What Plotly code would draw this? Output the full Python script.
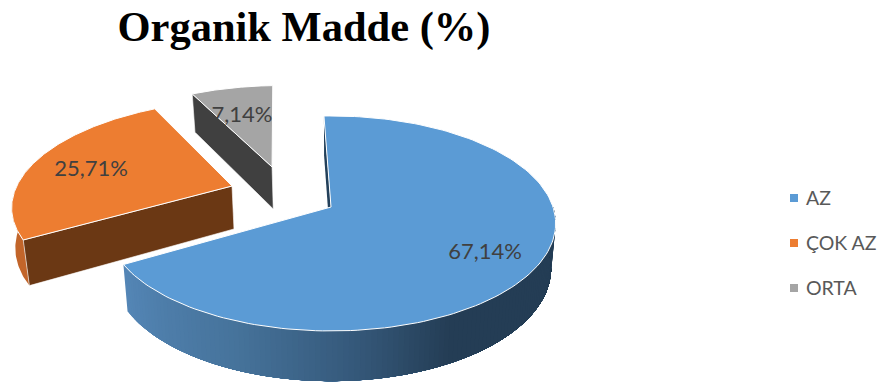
import numpy as np
import plotly.graph_objects as go

# Chart data
categories = ["AZ", "ÇOK AZ", "ORTA"]
shares = [67.14, 25.71, 7.14]
chart_title = "Organik Madde (%)"

# Flat and shaded colours per slice
top_colors = ["#5B9BD5", "#ED7D31", "#A5A5A5"]
face_colors = ["#23405A", "#6B3814", "#404040"]
orange_rim = "#C2652A"

# Projection of the tilted disc onto the canvas (units: canvas pixels)
CX, CY = 331.0, 207.0
RX, RY = 222.0, 105.0
PERSP = 0.153
START_DEG = 92.1
# Explosion of each slice, in disc radii
offsets = [(0.0, 0.0), (-0.46, 0.206), (-0.282, 0.405)]


def project(x, y):
    w = 1 + PERSP * y
    return CX + RX * x / w, CY - RY * y / w


def drop(px, py, shrink=0.98):
    """Lower edge of the extruded wall below a point on the top face."""
    return CX + (px - CX) * shrink, py + 44 + (py - CY) * 0.05


def polygon(xs, ys, fill, line="rgba(0,0,0,0)", width=0.0):
    return go.Scatter(
        x=list(xs), y=list(ys), mode="lines", fill="toself", fillcolor=fill,
        line=dict(color=line, width=width), hoverinfo="skip", showlegend=False,
    )


def lerp_color(stops, t):
    for (t0, c0), (t1, c1) in zip(stops, stops[1:]):
        if t <= t1:
            f = (t - t0) / (t1 - t0) if t1 > t0 else 0
            rgb = [round(a + (b - a) * f) for a, b in zip(c0, c1)]
            return "rgb({},{},{})".format(*rgb)
    return "rgb({},{},{})".format(*stops[-1][1])


# Slice boundaries, running clockwise from the start angle
total = sum(shares)
edges = [START_DEG]
for s in shares:
    edges.append(edges[-1] - s / total * 360)


def rim_point(i, deg):
    ox, oy = offsets[i]
    th = np.radians(deg)
    return project(np.cos(th) + ox, np.sin(th) + oy)


def radial_wall(i, edge, line="#FFFFFF", width=0.6):
    ax, ay = project(*offsets[i])
    rx, ry = rim_point(i, edges[edge])
    bx, by = drop(ax, ay)
    sx, sy = drop(rx, ry)
    return polygon([rx, ax, bx, sx, rx], [ry, ay, by, sy, ry], face_colors[i], line, width)


def top_face(i):
    ax, ay = project(*offsets[i])
    xs, ys = rim_point(i, np.linspace(edges[i], edges[i + 1], 160))
    return polygon(np.r_[ax, xs, ax], np.r_[ay, ys, ay], top_colors[i], "#FFFFFF", 1.0)


traces = []

# Grey slice, rearmost
traces.append(radial_wall(2, 2))
traces.append(top_face(2))

# Orange slice: curved rim on the left, then the front-facing cut
rx, ry = rim_point(1, np.linspace(edges[1], edges[1] - 45, 50))
bx, by = drop(rx, ry, np.linspace(0.98, 1.0, 50))
traces.append(polygon(np.r_[rx, bx[::-1]], np.r_[ry, by[::-1]], orange_rim))
traces.append(radial_wall(1, 1))
traces.append(top_face(1))

# Blue slice: thin cut at the start, shaded outer wall, top face
traces.append(radial_wall(0, 0, "rgba(0,0,0,0)", 0.0))

wall_stops = [
    (0.00, (84, 134, 182)),
    (0.25, (70, 115, 155)),
    (0.42, (54, 90, 124)),
    (0.58, (36, 61, 85)),
    (1.00, (36, 61, 85)),
]
# The wall is painted in overlapping bands, each reaching the far end,
# so neighbouring colours meet without seams.
wall_angles = np.linspace(edges[1], 0.0, 121)
for a0 in wall_angles[:-1]:
    tx, ty = rim_point(0, np.linspace(a0, 0.0, 120))
    lx, ly = drop(tx, ty)
    col = lerp_color(wall_stops, (a0 - edges[1]) / -edges[1])
    traces.append(polygon(np.r_[tx, lx[::-1]], np.r_[ty, ly[::-1]], col))
traces.append(top_face(0))

# Value labels on the top faces
label_x = [485, 91, 242]
label_y = [253, 170, 116]
traces.append(go.Scatter(
    x=label_x, y=label_y, mode="text",
    text=[f"{v:.2f}%".replace(".", ",") for v in shares],
    textposition="middle center",
    textfont=dict(family="Lato", size=22, color="#404040"),
    hoverinfo="skip", showlegend=False,
))

# Key on the right
key_x = [794, 794, 794]
key_y = [198, 243, 288]
key_text_x = [806, 806, 806]
key_text_y = [200, 245, 290]
traces.append(go.Scatter(
    x=key_x, y=key_y, mode="markers",
    marker=dict(symbol="square", size=8, color=top_colors, line=dict(width=0)),
    hoverinfo="skip", showlegend=False,
))
traces.append(go.Scatter(
    x=key_text_x, y=key_text_y, mode="text",
    text=categories,
    textposition="middle right",
    textfont=dict(family="Lato", size=19.5, color="#595959"),
    hoverinfo="skip", showlegend=False,
))

fig = go.Figure(traces)
fig.update_layout(
    width=884, height=383,
    margin=dict(l=0, r=0, t=0, b=0),
    paper_bgcolor="#FFFFFF", plot_bgcolor="#FFFFFF",
    showlegend=False,
    title=dict(
        text=f"<b>{chart_title}</b>",
        x=304 / 884, xanchor="center", xref="container",
        y=1 - 26 / 383, yanchor="middle", yref="container",
        font=dict(family="Liberation Serif", size=42.5, color="#000000"),
    ),
    xaxis=dict(range=[0, 884], visible=False, fixedrange=True),
    yaxis=dict(range=[383, 0], visible=False, fixedrange=True),
)
fig.write_html("out.html", config=dict(displayModeBar=False))
